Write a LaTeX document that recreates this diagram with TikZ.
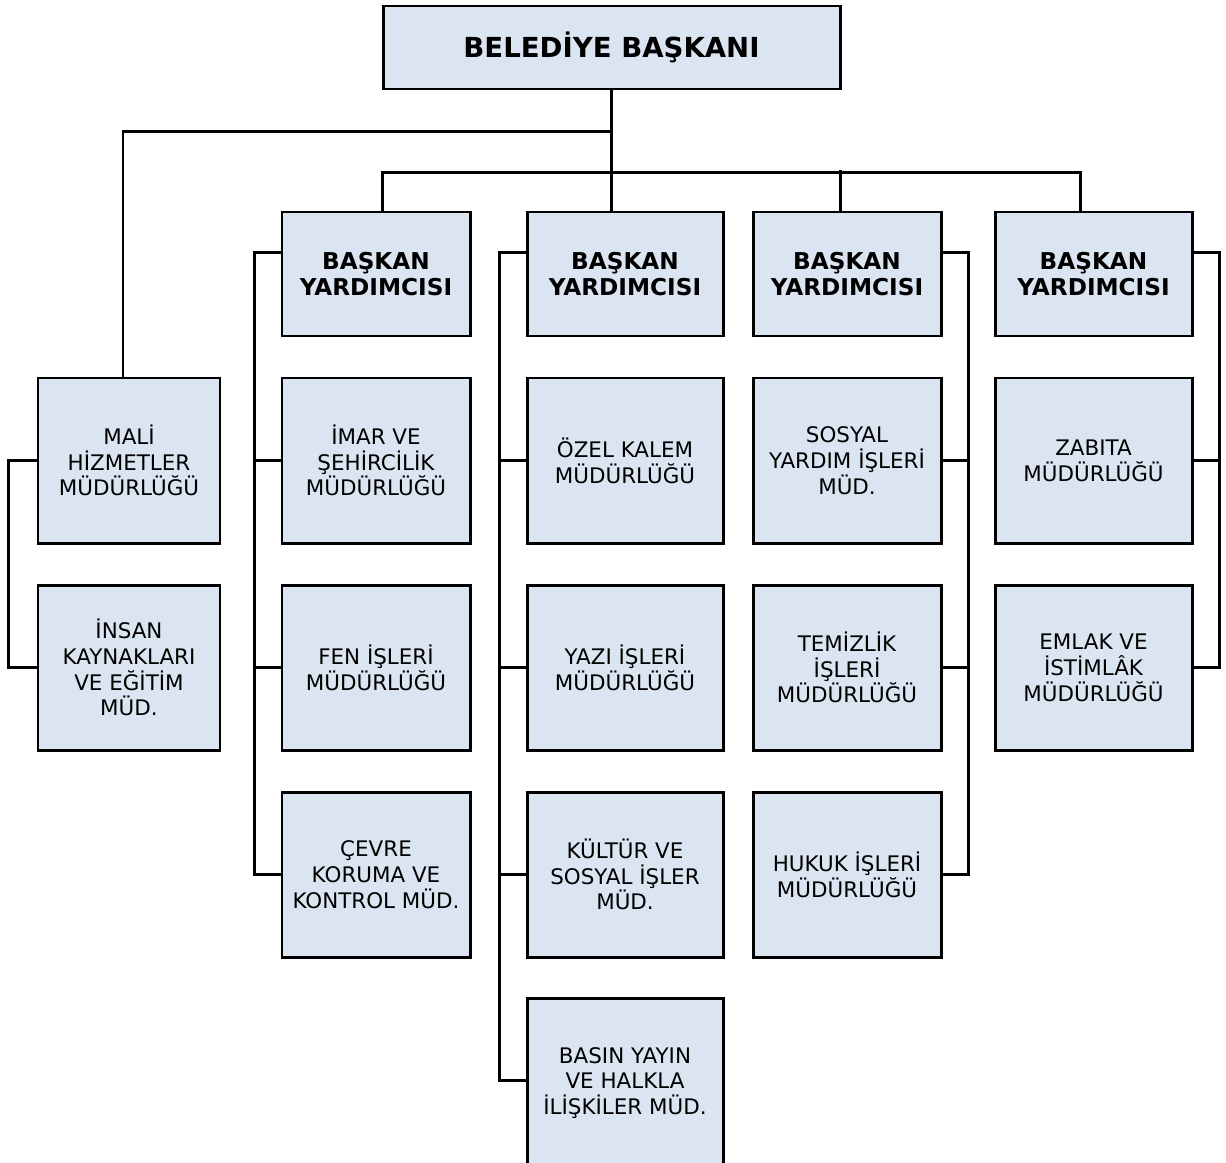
\documentclass[tikz,border=0pt]{standalone}
\usepackage{fontspec}
\setmainfont{DejaVu Sans}
\usepackage{xcolor}
\usepackage{tikz}
\usetikzlibrary{positioning,calc}
\definecolor{boxblue}{HTML}{DBE5F1}

\begin{document}
\begin{tikzpicture}[
  unit/.style={rectangle,draw=black,line width=1.7pt,fill=boxblue,minimum height=3.30cm,align=center,inner sep=2pt,font=\fontsize{12.2}{14.7}\selectfont},
  vice/.style={unit,minimum height=2.48cm,font=\fontsize{13.2}{15}\selectfont\bfseries},
  chief/.style={unit,minimum width=9.14cm,minimum height=1.66cm,font=\fontsize{15.7}{18}\selectfont\bfseries},
  conn/.style={draw=black,line width=1.7pt}
]
\useasboundingbox (0,0) rectangle (24.52,-23.24);

% Baskan
\node[chief] (top) at (12.23,-0.95) {BELEDİYE BAŞKANI};

% Yardimcilar
\node[vice,minimum width=3.76cm] (by1) at (7.52,-5.48)  {BAŞKAN\\YARDIMCISI};
\node[vice,minimum width=3.92cm] (by2) at (12.50,-5.48) {BAŞKAN\\YARDIMCISI};
\node[vice,minimum width=3.76cm] (by3) at (16.94,-5.48) {BAŞKAN\\YARDIMCISI};
\node[vice,minimum width=3.94cm] (by4) at (21.87,-5.48) {BAŞKAN\\YARDIMCISI};

% Mudurlukler
\node[unit,minimum width=3.64cm] (mali) at (2.58,-9.21)  {MALİ\\HİZMETLER\\MÜDÜRLÜĞÜ};
\node[unit,minimum width=3.64cm] (ik)   at (2.58,-13.35) {İNSAN\\KAYNAKLARI\\VE EĞİTİM\\MÜD.};

\node[unit,minimum width=3.76cm] (imar)  at (7.52,-9.21)  {İMAR VE\\ŞEHİRCİLİK\\MÜDÜRLÜĞÜ};
\node[unit,minimum width=3.76cm] (fen)   at (7.52,-13.35) {FEN İŞLERİ\\MÜDÜRLÜĞÜ};
\node[unit,minimum width=3.76cm] (cevre) at (7.52,-17.49) {ÇEVRE\\KORUMA VE\\KONTROL MÜD.};

\node[unit,minimum width=3.92cm] (ozel)   at (12.50,-9.21)  {ÖZEL KALEM\\MÜDÜRLÜĞÜ};
\node[unit,minimum width=3.92cm] (yazi)   at (12.50,-13.35) {YAZI İŞLERİ\\MÜDÜRLÜĞÜ};
\node[unit,minimum width=3.92cm] (kultur) at (12.50,-17.49) {KÜLTÜR VE\\SOSYAL İŞLER\\MÜD.};
\node[unit,minimum width=3.92cm,minimum height=3.40cm] (basin) at (12.50,-21.66) {BASIN YAYIN\\VE HALKLA\\İLİŞKİLER MÜD.};

\node[unit,minimum width=3.76cm] (sosyal) at (16.94,-9.21)  {SOSYAL\\YARDIM İŞLERİ\\MÜD.};
\node[unit,minimum width=3.76cm] (temiz)  at (16.94,-13.35) {TEMİZLİK\\İŞLERİ\\MÜDÜRLÜĞÜ};
\node[unit,minimum width=3.76cm] (hukuk)  at (16.94,-17.49) {HUKUK İŞLERİ\\MÜDÜRLÜĞÜ};

\node[unit,minimum width=3.94cm] (zabita) at (21.87,-9.21)  {ZABITA\\MÜDÜRLÜĞÜ};
\node[unit,minimum width=3.94cm] (emlak)  at (21.87,-13.35) {EMLAK VE\\İSTİMLÂK\\MÜDÜRLÜĞÜ};

% Top links
\draw[conn] (top.south) -- (top.south |- by2.north);
\draw[conn] ([xshift=-0.12cm]mali.north) |- ($(top.south)+(0,-0.82)$);
\draw[conn] ([xshift=0.12cm]by1.north) |- ($(top.south)+(0,-1.64)$) -| ([xshift=-0.27cm]by4.north);
\draw[conn] ([xshift=-0.14cm]by3.north) -- ++(0,0.82);

% Left brackets
\draw[conn] (mali.west) -- ++(-0.56,0) |- (ik.west);
\draw[conn] ([yshift=-0.84cm]by1.north west) -- ++(-0.52,0) |- (cevre.west);
\foreach \n in {imar,fen}
  \draw[conn] (\n.west) -- ++(-0.52,0);
\draw[conn] ([yshift=-0.84cm]by2.north west) -- ++(-0.52,0) |- ([yshift=0.05cm]basin.west);
\foreach \n in {ozel,yazi,kultur}
  \draw[conn] (\n.west) -- ++(-0.52,0);

% Right brackets
\draw[conn] ([yshift=-0.84cm]by3.north east) -- ++(0.52,0) |- (hukuk.east);
\foreach \n in {sosyal,temiz}
  \draw[conn] (\n.east) -- ++(0.52,0);
\draw[conn] ([yshift=-0.84cm]by4.north east) -- ++(0.52,0) |- (emlak.east);
\draw[conn] (zabita.east) -- ++(0.52,0);

\end{tikzpicture}
\end{document}
